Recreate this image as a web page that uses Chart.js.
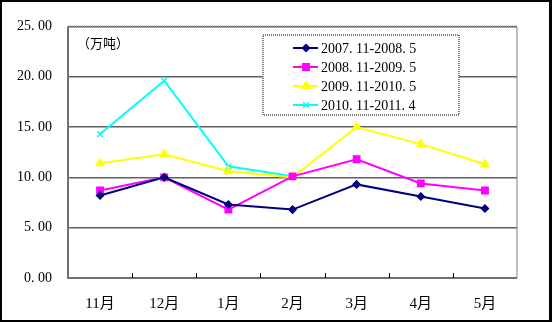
<!DOCTYPE html>
<html>
<head>
<meta charset="utf-8">
<script src="https://cdn.jsdelivr.net/npm/chart.js@4.4.0/dist/chart.umd.min.js"></script>
<style>
  html, body { margin: 0; padding: 0; background: #000; }
  #wrap { position: absolute; left: 2px; top: 2px; width: 547px; height: 318px; background: #fff; }
</style>
</head>
<body>
<div id="wrap"><canvas id="myChart"></canvas></div>
<script>
const months = ['11月', '12月', '1月', '2月', '3月', '4月', '5月']
const yTicks = ['0. 00', '5. 00', '10. 00', '15. 00', '20. 00', '25. 00']
const seriesNames = ['2007. 11-2008. 5', '2008. 11-2009. 5', '2009. 11-2010. 5', '2010. 11-2011. 4']
const s0708 = [8.2, 10.0, 7.3, 6.8, 9.3, 8.1, 6.9]
const s0809 = [8.7, 10.0, 6.8, 10.1, 11.8, 9.4, 8.7]
const s0910 = [11.4, 12.3, 10.6, 10.0, 15.0, 13.3, 11.3]
const s1011 = [14.3, 19.6, 11.1, 10.1, null, null, null]
const unitLabel = '（万吨）'

const colors = ['#000080', '#ff00ff', '#ffff00', '#00ffff']
const markers = ['rectRot', 'rect', 'triangle', 'crossRot']
const markerSize = [3.5, 4.5, 4.5, 4]
const serif = '"Liberation Serif", "Noto Sans CJK SC", serif'

const ctx = document.getElementById('myChart')
ctx.style.width = '547px'
ctx.style.height = '318px'

const extras = {
    id: 'extras',
    afterDraw(chart) {
        const c = chart.ctx
        const a = chart.chartArea
        const x = chart.scales.x
        c.save()
        // dotted plot frame (top/right)
        c.strokeStyle = '#808080'
        c.lineWidth = 2
        c.setLineDash([1, 1])
        c.beginPath()
        c.moveTo(a.left, a.top)
        c.lineTo(a.right, a.top)
        c.lineTo(a.right, a.bottom)
        c.stroke()
        c.setLineDash([])
        // axes
        c.strokeStyle = '#707070'
        c.beginPath()
        c.moveTo(a.left, a.top)
        c.lineTo(a.left, a.bottom)
        c.lineTo(a.right, a.bottom)
        c.stroke()
        // category boundary ticks
        c.lineWidth = 1
        c.strokeStyle = '#000'
        for (let i = 0; i < months.length - 1; i++) {
            const px = Math.round((x.getPixelForValue(i) + x.getPixelForValue(i + 1)) / 2) + 0.5
            c.beginPath()
            c.moveTo(px, a.bottom)
            c.lineTo(px, a.bottom - 5)
            c.stroke()
        }
        // unit label
        c.fillStyle = '#000'
        c.font = '13px ' + serif
        c.textBaseline = 'middle'
        c.fillText(unitLabel, a.left + 9, 43)
        // legend
        const lx = 261, ly = 33, lw = 196, lh = 80
        c.fillStyle = '#fff'
        c.fillRect(lx, ly, lw, lh)
        c.strokeStyle = '#808080'
        c.lineWidth = 2
        c.setLineDash([1, 1])
        c.strokeRect(lx, ly, lw, lh)
        c.setLineDash([])
        chart.data.datasets.forEach((ds, i) => {
            const yy = ly + 13 + i * 19
            c.strokeStyle = ds.borderColor
            c.fillStyle = ds.borderColor
            c.lineWidth = 2
            c.beginPath()
            c.moveTo(lx + 30, yy)
            c.lineTo(lx + 55, yy)
            c.stroke()
            c.lineWidth = 1.5
            Chart.helpers.drawPoint(c, {
                pointStyle: ds.pointStyle, radius: ds.pointRadius, borderWidth: 1.5
            }, lx + 43, yy)
            c.fillStyle = '#000'
            c.font = '14px ' + serif
            c.fillText(ds.label, lx + 58, yy + 1)
        })
        c.restore()
    }
}

const makeSet = (label, data, i) => ({
    label: label,
    data: data,
    borderColor: colors[i],
    backgroundColor: colors[i],
    pointBackgroundColor: colors[i],
    pointBorderColor: colors[i],
    pointStyle: markers[i],
    pointRadius: markerSize[i],
    pointBorderWidth: 1.5,
    borderWidth: 2,
    tension: 0,
    spanGaps: false,
})

new Chart(ctx, {
    type: 'line',
    data: {
        labels: months,
        datasets: [
            makeSet(seriesNames[0], s0708, 0),
            makeSet(seriesNames[1], s0809, 1),
            makeSet(seriesNames[2], s0910, 2),
            makeSet(seriesNames[3], s1011, 3),
        ],
    },
    options: {
        responsive: false,
        animation: false,
        devicePixelRatio: 1,
        layout: { padding: { left: 0, right: 32, top: 18, bottom: 0 } },
        plugins: { legend: { display: false }, tooltip: { enabled: false } },
        scales: {
            x: {
                offset: true,
                grid: { display: false },
                border: { display: false },
                afterFit(scale) { scale.height = 42 },
                ticks: {
                    color: '#000',
                    padding: 9,
                    font: { family: serif, size: 15 },
                },
            },
            y: {
                min: 0,
                max: 25,
                afterFit(scale) { scale.width = 66 },
                ticks: {
                    stepSize: 5,
                    color: '#000',
                    padding: 16,
                    font: { family: serif, size: 14 },
                    callback: (v, i) => yTicks[i],
                },
                border: { display: false },
                grid: {
                    color: '#606060',
                    lineWidth: 1.5,
                    tickLength: 0,
                    borderDash: [1, 1],
                    drawTicks: false,
                },
            },
        },
    },
    plugins: [extras],
})
</script>
</body>
</html>
